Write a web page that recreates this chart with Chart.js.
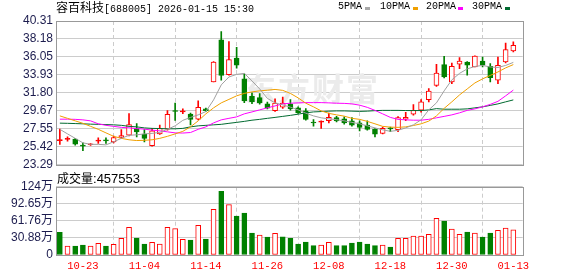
<!DOCTYPE html>
<html>
<head>
<meta charset="utf-8">
<script src="https://cdn.jsdelivr.net/npm/chart.js@4.4.1/dist/chart.umd.min.js"></script>
<style>
  body { margin: 0; background: #fff; }
  #wrap { position: relative; width: 578px; height: 276px; overflow: hidden; background: #fff; }
  canvas { position: absolute; left: 0; }
  .txt { position: absolute; white-space: nowrap; color: #000; line-height: 14px; }
  .mono { font-family: 'Liberation Mono', monospace; font-size: 10px; }
  .cjk { font-family: 'Noto Sans CJK SC', sans-serif; font-size: 12px; }
  .sw { position: absolute; width: 5px; height: 3px; }
</style>
</head>
<body>
<div id="wrap">
  <canvas id="main" width="578" height="175" style="top:0"></canvas>
  <canvas id="vol" width="578" height="101" style="top:175px"></canvas>

  <div class="txt" style="left:56px;top:0"><span class="cjk">容百科技</span><span class="mono">[688005] 2026-01-15 15:30</span></div>

  <div class="txt mono" style="left:338px;top:0">5PMA</div>
  <div class="sw" style="left:365px;top:7px;background:#a8a8a8"></div>
  <div class="txt mono" style="left:380px;top:0">10PMA</div>
  <div class="sw" style="left:413px;top:7px;background:#f0a000"></div>
  <div class="txt mono" style="left:426px;top:0">20PMA</div>
  <div class="sw" style="left:458px;top:7px;background:#ff00ff"></div>
  <div class="txt mono" style="left:472px;top:0">30PMA</div>
  <div class="sw" style="left:505px;top:7px;background:#006a30"></div>

  <div class="txt" style="left:57px;top:171px"><span class="cjk">成交量</span><span style="font-family:'Liberation Sans';font-size:13px">:457553</span></div>
</div>

<script>
// trading days shown (one per candle)
const dates = [
  '10-20','10-21','10-22','10-23','10-24','10-27','10-28','10-29','10-30','10-31',
  '11-03','11-04','11-05','11-06','11-07','11-10','11-11','11-12','11-13','11-14',
  '11-17','11-18','11-19','11-20','11-21','11-24','11-25','11-26','11-27','11-28',
  '12-01','12-02','12-03','12-04','12-05','12-08','12-09','12-10','12-11','12-12',
  '12-15','12-16','12-17','12-18','12-19','12-22','12-23','12-24','12-25','12-26',
  '12-29','12-30','12-31','01-05','01-06','01-07','01-08','01-09','01-12','01-13'
];
const xLabelIdx = [3, 11, 19, 27, 35, 43, 51, 59];

const open = [
  26.15, 26.30, 26.33, 25.62, 25.66, 26.10, 26.17, 25.99, 26.52, 26.80,
  27.59, 26.92, 25.55, 26.95, 27.50, 29.70, 29.55, 29.30, 28.70, 29.90,
  33.10, 38.08, 33.95, 35.93, 33.47, 31.40, 31.24, 30.50, 29.70, 30.10,
  30.50, 30.03, 29.67, 28.30, 28.35, 28.50, 28.89, 28.73, 28.49, 28.26,
  27.98, 27.51, 27.00, 27.63, 27.45, 28.70, 29.28, 29.75, 31.01, 32.70,
  35.15, 33.10, 35.19, 35.46, 34.87, 35.58, 34.95, 33.30, 35.46, 36.76
];
const high = [
  27.51, 26.60, 26.41, 25.89, 25.81, 26.48, 26.48, 26.68, 27.47, 29.36,
  28.18, 27.47, 27.60, 28.00, 29.70, 30.60, 29.90, 29.40, 30.85, 30.00,
  35.50, 39.05, 37.88, 37.19, 34.05, 31.80, 31.72, 30.70, 31.10, 31.30,
  31.00, 30.14, 29.95, 28.65, 28.50, 29.40, 29.04, 28.97, 28.89, 28.49,
  28.49, 27.59, 27.75, 27.75, 29.00, 29.50, 30.42, 31.01, 32.31, 35.19,
  36.13, 35.34, 35.97, 35.50, 36.20, 36.05, 35.26, 36.05, 37.71, 37.83
];
const low = [
  25.70, 26.09, 25.62, 24.95, 25.58, 25.81, 25.81, 25.89, 26.41, 26.72,
  26.60, 26.01, 25.50, 26.90, 27.40, 28.55, 29.35, 28.00, 28.60, 29.60,
  33.10, 33.30, 33.90, 34.74, 30.65, 30.54, 30.46, 29.90, 29.60, 29.95,
  29.75, 29.36, 28.57, 27.86, 27.59, 28.25, 28.38, 28.10, 27.86, 27.31,
  27.39, 26.60, 26.95, 27.20, 27.20, 28.50, 29.16, 29.52, 30.73, 32.58,
  33.57, 32.90, 34.67, 33.89, 34.87, 34.87, 33.10, 32.90, 35.34, 36.64
];
const close = [
  26.17, 26.36, 25.73, 25.50, 25.70, 26.13, 26.13, 26.52, 26.76, 28.06,
  27.19, 26.41, 27.30, 27.60, 29.25, 29.60, 29.62, 28.65, 30.10, 29.70,
  35.45, 33.87, 35.75, 35.07, 30.85, 30.73, 30.61, 30.00, 30.60, 30.60,
  29.90, 29.44, 28.65, 28.24, 28.40, 28.90, 28.49, 28.26, 27.98, 27.70,
  27.47, 26.92, 27.60, 27.55, 28.87, 28.90, 29.75, 30.73, 32.03, 34.16,
  33.69, 34.95, 35.58, 35.07, 36.17, 35.07, 33.61, 35.07, 36.92, 37.43
];

// moving averages as drawn
const ma5 = [
  27.49, 26.95, 26.42, 25.89, 25.71, 25.71, 25.65, 26.01, 26.42, 26.78,
  26.84, 26.95, 27.01, 27.13, 27.49, 27.90, 28.55, 28.90, 29.20, 29.59,
  30.97, 32.75, 33.69, 33.99, 34.11, 33.22, 32.27, 31.15, 30.62, 30.38,
  30.11, 29.79, 29.40, 29.08, 28.85, 28.73, 28.63, 28.49, 28.31, 28.14,
  27.90, 27.66, 27.43, 27.25, 27.37, 27.66, 28.02, 28.61, 29.79, 30.62,
  32.04, 33.34, 34.11, 34.64, 34.93, 35.05, 34.87, 34.81, 35.05, 35.41
];
const ma10 = [
  29.08, 28.79, 28.49, 28.20, 27.84, 27.49, 27.07, 26.66, 26.42, 26.25,
  26.16, 26.19, 26.25, 26.42, 26.66, 26.95, 27.25, 27.78, 28.49, 29.32,
  30.03, 30.62, 31.03, 31.45, 31.74, 31.92, 32.04, 32.12, 32.21, 32.10,
  31.74, 31.21, 30.58, 30.15, 29.67, 29.38, 29.20, 29.05, 28.79, 28.67,
  28.43, 28.14, 27.84, 27.75, 27.72, 27.78, 27.94, 28.14, 28.46, 29.08,
  29.97, 30.74, 31.56, 32.27, 32.98, 33.46, 33.87, 34.28, 34.76, 35.15
];
const ma20 = [
  28.69, 28.69, 28.67, 28.61, 28.49, 28.14, 27.96, 27.84, 27.72, 27.66,
  27.58, 27.51, 27.39, 27.31, 27.19, 27.07, 27.05, 27.11, 27.49, 27.78,
  28.25, 28.61, 28.79, 28.96, 29.32, 29.55, 29.79, 30.03, 30.26, 30.50,
  30.58, 30.62, 30.65, 30.65, 30.65, 30.62, 30.58, 30.56, 30.50, 30.35,
  30.09, 29.73, 29.32, 28.90, 28.67, 28.61, 28.57, 28.57, 28.67, 28.85,
  29.02, 29.20, 29.44, 29.73, 29.91, 30.15, 30.44, 30.80, 31.45, 32.13
];
const ma30 = [
  28.22, 28.20, 28.17, 28.14, 28.10, 28.08, 28.05, 28.02, 27.96, 27.84,
  27.78, 27.66, 27.60, 27.58, 27.55, 27.55, 27.60, 27.78, 27.90, 27.96,
  28.02, 28.08, 28.20, 28.31, 28.43, 28.57, 28.67, 28.79, 28.90, 29.02,
  29.14, 29.28, 29.44, 29.55, 29.59, 29.64, 29.67, 29.67, 29.64, 29.61,
  29.64, 29.70, 29.73, 29.73, 29.73, 29.71, 29.71, 29.71, 29.79, 29.94,
  29.87, 29.87, 29.87, 29.91, 30.03, 30.15, 30.32, 30.50, 30.74, 30.97
];

// volume in 万 shares, and bar colour (1 = red, 0 = green)
const volume = [
  41.0, 16.3, 16.3, 18.1, 16.3, 21.1, 16.3, 19.3, 30.1, 50.1,
  30.7, 19.9, 22.9, 19.9, 50.1, 48.0, 28.4, 27.1, 54.0, 28.9,
  82.9, 115.7, 91.6, 70.5, 75.9, 39.8, 36.2, 32.5, 39.5, 32.8,
  30.4, 19.9, 23.5, 16.9, 18.1, 22.9, 16.9, 16.9, 21.7, 23.5,
  19.9, 16.9, 18.1, 14.5, 30.1, 30.1, 34.4, 34.4, 37.4, 66.6,
  61.5, 47.0, 37.4, 41.6, 39.8, 32.5, 39.8, 44.6, 48.8, 45.76
];
const volUp = [
  0, 1, 0, 0, 1, 1, 0, 1, 1, 1,
  0, 0, 1, 1, 1, 1, 1, 0, 1, 0,
  1, 0, 1, 0, 0, 0, 1, 0, 1, 0,
  0, 0, 0, 0, 1, 1, 0, 0, 0, 0,
  0, 0, 1, 0, 1, 1, 1, 1, 1, 1,
  0, 1, 1, 0, 1, 0, 0, 1, 1, 1
];

const priceTicks = ['23.29', '25.42', '27.55', '29.67', '31.80', '33.93', '36.05', '38.18', '40.31'];
const volTicks = [0, 30.88, 61.76, 92.65, 124];
const volTickLabels = ['0', '30.88万', '61.76万', '92.65万', '124万'];

const RED = '#ff0000';
const GREEN = '#008000';
const LABEL = '#1c1c4e';
const FONT = "'Liberation Sans', 'Noto Sans CJK SC', sans-serif";

Chart.defaults.font.family = FONT;
Chart.defaults.font.size = 12;

const idx = dates.map((_, i) => i);
const up = i => close[i] >= open[i];
const candleColor = i => up(i) ? RED : GREEN;

// plot frame around the chart area
const frame = {
  id: 'frame',
  afterDraw(c) {
    const a = c.chartArea, ctx = c.ctx;
    ctx.save();
    ctx.strokeStyle = '#999999';
    ctx.lineWidth = 1;
    ctx.strokeRect(Math.round(a.left) + 0.5, Math.round(a.top) + 0.5,
      Math.round(a.right) - Math.round(a.left), Math.round(a.bottom) - Math.round(a.top));
    ctx.restore();
  }
};

// faint site watermark behind the candles
const watermark = {
  id: 'watermark',
  beforeDatasetsDraw(c) {
    const ctx = c.ctx;
    ctx.save();
    ctx.fillStyle = '#ebebeb';
    ctx.font = "bold 32px 'Noto Sans CJK SC'";
    ctx.textBaseline = 'alphabetic';
    ['东', '方', '财', '富'].forEach((ch, k) => ctx.fillText(ch, 244 + k * 34, 101));
    ctx.restore();
  }
};

function xAxis(showLabels) {
  return {
    type: 'linear',
    min: -0.5,
    max: 60.22,
    offset: false,
    afterBuildTicks: ax => { ax.ticks = xLabelIdx.map(v => ({value: v})); },
    afterFit: ax => { ax.height = showLabels ? 21 : 0; },
    grid: {color: '#cccccc', drawTicks: false},
    border: {display: false, dash: [4, 3]},
    ticks: {
      display: showLabels,
      autoSkip: false,
      maxRotation: 0,
      color: RED,
      padding: 5,
      font: {family: "'Liberation Mono', monospace", size: 10.5},
      callback: v => dates[v]
    }
  };
}

new Chart(document.getElementById('main'), {
  type: 'bar',
  data: {
    datasets: [
      {type: 'line', data: idx.map(i => ({x: i, y: ma5[i]})), borderColor: '#a0a0a0', borderWidth: 1, pointRadius: 0, order: 0},
      {type: 'line', data: idx.map(i => ({x: i, y: ma10[i]})), borderColor: '#f0a000', borderWidth: 1, pointRadius: 0, order: 0},
      {type: 'line', data: idx.map(i => ({x: i, y: ma20[i]})), borderColor: '#ff00ff', borderWidth: 1, pointRadius: 0, order: 0},
      {type: 'line', data: idx.map(i => ({x: i, y: ma30[i]})), borderColor: '#006a30', borderWidth: 1, pointRadius: 0, order: 0},
      {
        type: 'bar',
        data: idx.map(i => ({x: i, y: [open[i], close[i]]})),
        backgroundColor: idx.map(i => up(i) ? (Math.abs(close[i] - open[i]) < 0.1 ? RED : '#ffffff') : GREEN),
        borderColor: idx.map(candleColor),
        borderWidth: 1,
        borderSkipped: false,
        barThickness: 5,
        minBarLength: 1,
        grouped: false,
        order: 1
      },
      {
        type: 'bar',
        data: idx.map(i => ({x: i, y: [low[i], high[i]]})),
        backgroundColor: idx.map(candleColor),
        borderWidth: 0,
        barThickness: 1,
        grouped: false,
        order: 2
      }
    ]
  },
  options: {
    responsive: false,
    animation: false,
    devicePixelRatio: 1,
    events: [],
    layout: {padding: {left: 0, top: 21, right: 55.3, bottom: 10}},
    plugins: {legend: {display: false}, tooltip: {enabled: false}},
    scales: {
      x: xAxis(false),
      y: {
        min: 23.29,
        max: 40.31,
        afterBuildTicks: ax => { ax.ticks = priceTicks.map(v => ({value: +v})); },
        afterFit: ax => { ax.width = 56; },
        grid: {color: '#cccccc', drawTicks: false},
        border: {display: false},
        ticks: {color: LABEL, padding: 3, autoSkip: false, callback: (v, i) => priceTicks[i]}
      }
    }
  },
  plugins: [watermark, frame]
});

new Chart(document.getElementById('vol'), {
  type: 'bar',
  data: {
    datasets: [{
      data: idx.map(i => ({x: i, y: volume[i]})),
      backgroundColor: idx.map(i => volUp[i] ? '#ffffff' : GREEN),
      borderColor: idx.map(i => volUp[i] ? RED : GREEN),
      borderWidth: 1,
      borderSkipped: false,
      barThickness: 5,
      grouped: false
    }]
  },
  options: {
    responsive: false,
    animation: false,
    devicePixelRatio: 1,
    events: [],
    layout: {padding: {left: 0, top: 11.7, right: 55.3, bottom: 0}},
    plugins: {legend: {display: false}, tooltip: {enabled: false}},
    scales: {
      x: xAxis(true),
      y: {
        min: 0,
        max: 124,
        afterBuildTicks: ax => { ax.ticks = volTicks.map(v => ({value: v})); },
        afterFit: ax => { ax.width = 56; },
        grid: {color: '#cccccc', drawTicks: false},
        border: {display: false},
        ticks: {color: LABEL, padding: 3, autoSkip: false, callback: (v, i) => volTickLabels[i]}
      }
    }
  },
  plugins: [frame]
});
</script>
</body>
</html>
